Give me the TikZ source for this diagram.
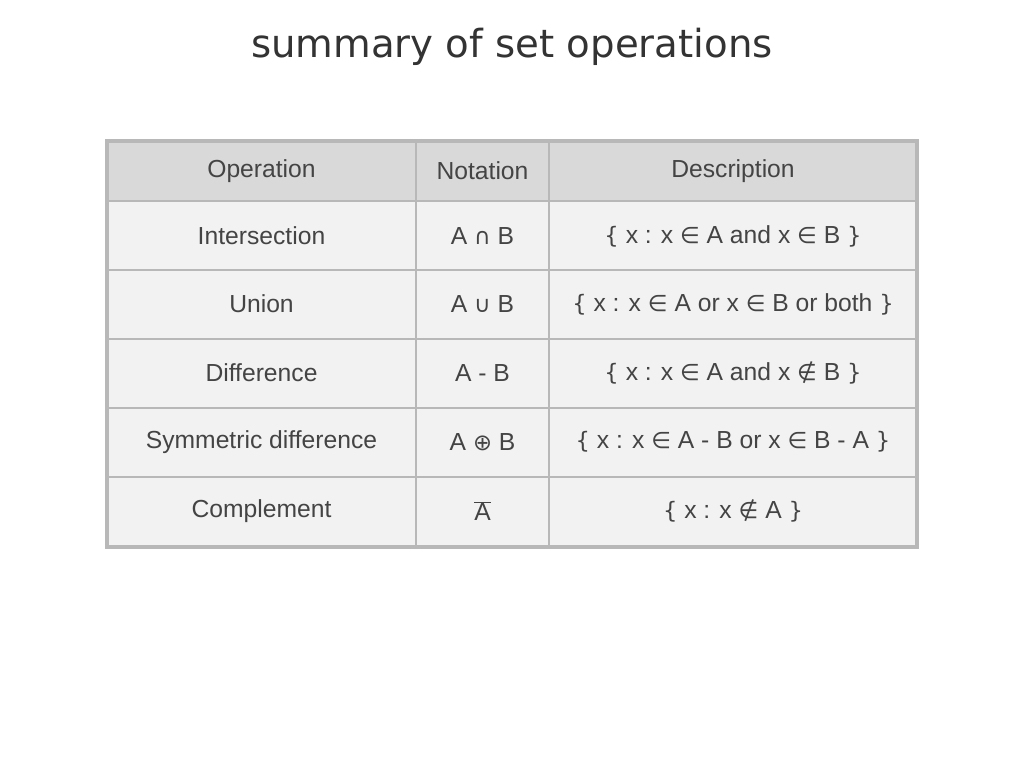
\documentclass[tikz,border=0pt]{standalone}
\usepackage{fontspec}
\setmainfont{Liberation Sans}
\newfontfamily\sym{DejaVu Sans}
\newfontfamily\titlefont{DejaVu Sans}
\definecolor{hdr}{HTML}{D9D9D9}
\definecolor{body}{HTML}{F2F2F2}
\definecolor{grid}{HTML}{B8B8B8}
\definecolor{txt}{HTML}{444444}
\newcommand{\s}[1]{{\sym\fontsize{17}{20}\selectfont #1}}
\begin{document}
\begin{tikzpicture}[x=0.75pt,y=-0.75pt,
  cell/.style={font=\fontsize{18.5}{22}\selectfont, text=txt, anchor=center, inner sep=0pt}]
\useasboundingbox (0,0) rectangle (1024,768);
\fill[white] (0,0) rectangle (1024,768);
\node[font=\titlefont\fontsize{29}{34}\selectfont, text=black!80] (title) at (512,47) {summary of set operations};
\fill[hdr] (107,141) rectangle (917,201);
\fill[body] (107,201) rectangle (917,547);
\foreach \y in {201,270,339,408,477} \draw[grid,line width=1.5] (107,\y) -- (917,\y);
\foreach \x in {416,549} \draw[grid,line width=1.5] (\x,141) -- (\x,547);
\draw[grid,line width=2.5] (107,141) rectangle (917,547);
\def\cA{261.5}\def\cB{482.5}\def\cC{733}
\node[cell] (h1) at (\cA,171) {Operation};
\node[cell] (h2) at (\cB,171) {Notation};
\node[cell] (h3) at (\cC,171) {Description};
\node[cell] (a1) at (\cA,236) {Intersection};
\node[cell] (b1) at (\cB,236) {A \s{∩} B};
\node[cell] (c1) at (\cC,236) {\s{\{} x : x \s{∈} A and x \s{∈} B \s{\}}};
\node[cell] (a2) at (\cA,304) {Union};
\node[cell] (b2) at (\cB,304) {A \s{∪} B};
\node[cell] (c2) at (\cC,304) {\s{\{} x : x \s{∈} A or x \s{∈} B or both \s{\}}};
\node[cell] (a3) at (\cA,373) {Difference};
\node[cell] (b3) at (\cB,373) {A - B};
\node[cell] (c3) at (\cC,373) {\s{\{} x : x \s{∈} A and x \s{∉} B \s{\}}};
\node[cell] (a4) at (\cA,442) {Symmetric difference};
\node[cell] (b4) at (\cB,442) {A \s{⊕} B};
\node[cell] (c4) at (\cC,442) {\s{\{} x : x \s{∈} A - B or x \s{∈} B - A \s{\}}};
\node[cell] (a5) at (\cA,511) {Complement};
\node[cell] (b5) at (\cB,511) {$\overline{\mbox{A}}$};
\node[cell] (c5) at (\cC,511) {\s{\{} x : x \s{∉} A \s{\}}};
\end{tikzpicture}
\end{document}
